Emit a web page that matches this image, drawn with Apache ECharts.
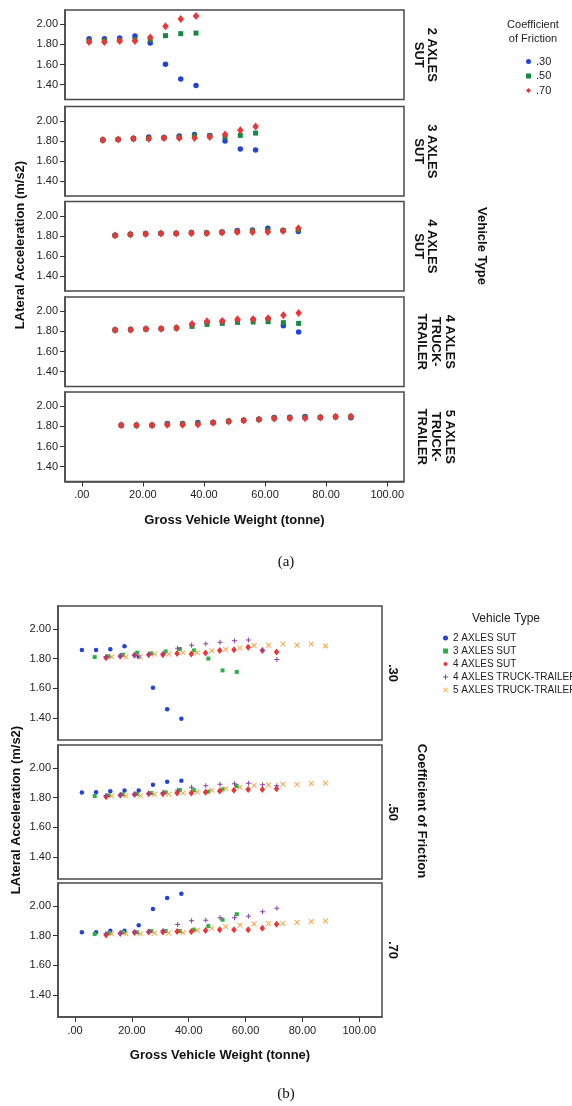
<!DOCTYPE html>
<html><head><meta charset="utf-8">
<script src="https://cdn.jsdelivr.net/npm/echarts@6/dist/echarts.min.js"></script>
<style>html,body{margin:0;padding:0;background:#fff}#c{width:572px;height:1106px}</style>
</head><body><div id="c"></div>
<script>
// ---------- data ----------
const vehicleTypes = ['2 AXLES SUT','3 AXLES SUT','4 AXLES SUT','4 AXLES TRUCK-TRAILER','5 AXLES TRUCK-TRAILER'];
const stripLabels = ['2 AXLES\nSUT','3 AXLES\nSUT','4 AXLES\nSUT','4 AXLES\nTRUCK-\nTRAILER','5 AXLES\nTRUCK-\nTRAILER'];
const frictions = ['.30','.50','.70'];
const xTicks = [0,20,40,60,80,100];
const yTicks = [1.40,1.60,1.80,2.00];

const gvw2 = [2.4,7.4,12.4,17.4,22.4,27.4,32.4,37.4];
const acc2_30 = [1.857,1.857,1.863,1.883,1.813,1.603,1.457,1.393];
const acc2_50 = [1.835,1.836,1.842,1.848,1.847,1.887,1.907,1.913];
const acc2_70 = [1.823,1.823,1.833,1.833,1.870,1.980,2.053,2.083];

const gvw3 = [6.9,11.9,16.9,21.9,26.9,31.9,36.9,41.9,46.9,51.9,56.9];
const acc3_30 = [1.810,1.815,1.826,1.840,1.835,1.848,1.864,1.855,1.800,1.720,1.710];
const acc3_50 = [1.810,1.815,1.822,1.825,1.830,1.835,1.850,1.850,1.840,1.855,1.878];
const acc3_70 = [1.810,1.815,1.822,1.822,1.830,1.830,1.830,1.840,1.864,1.907,1.944];

const gvw4 = [10.9,15.9,20.9,25.9,30.9,35.9,40.9,45.9,50.9,55.9,60.9,65.9,70.9];
const acc4_30 = [1.806,1.816,1.822,1.826,1.826,1.835,1.830,1.838,1.854,1.860,1.877,1.855,1.844];
const acc4_50 = [1.805,1.815,1.821,1.825,1.825,1.830,1.830,1.836,1.845,1.850,1.855,1.855,1.860];
const acc4_70 = [1.804,1.814,1.820,1.824,1.824,1.827,1.827,1.834,1.840,1.840,1.840,1.850,1.877];

const gvwT4 = [10.9,16.0,21.0,26.0,31.0,36.1,41.0,46.0,51.0,56.1,61.0,66.0,71.0];
const accT4_30 = [1.814,1.817,1.824,1.827,1.834,1.870,1.890,1.900,1.910,1.920,1.925,1.857,1.794];
const accT4_50 = [1.814,1.817,1.824,1.827,1.834,1.850,1.870,1.880,1.890,1.894,1.897,1.887,1.880];
const accT4_70 = [1.814,1.817,1.824,1.827,1.834,1.874,1.900,1.904,1.920,1.920,1.930,1.960,1.984];

const gvw5 = [12.9,17.9,23.0,28.0,33.0,38.0,43.0,48.1,53.0,58.0,63.0,68.1,73.1,78.1,83.1,88.1];
const acc5_30 = [1.812,1.812,1.812,1.830,1.830,1.840,1.840,1.853,1.862,1.872,1.888,1.890,1.898,1.890,1.897,1.885];
const acc5_50 = [1.812,1.812,1.812,1.822,1.823,1.830,1.838,1.850,1.860,1.870,1.882,1.885,1.890,1.889,1.895,1.898];
const acc5_70 = [1.812,1.812,1.812,1.816,1.816,1.820,1.836,1.850,1.860,1.870,1.878,1.881,1.881,1.888,1.895,1.898];

// ---------- build ----------
const FONT = 'Liberation Sans, Arial, sans-serif';
const gvwAll = [gvw2,gvw3,gvw4,gvwT4,gvw5];
const accAll = [
  [acc2_30,acc2_50,acc2_70],
  [acc3_30,acc3_50,acc3_70],
  [acc4_30,acc4_50,acc4_70],
  [accT4_30,accT4_50,accT4_70],
  [acc5_30,acc5_50,acc5_70]
];
const pairs = (xs, ys) => xs.map((x,i)=>[x, ys[i]]);

const PLUS = 'path://M4,0H6V4H10V6H6V10H4V6H0V4H4Z';
const XMARK = 'path://M1.2,0L5,3.8L8.8,0L10,1.2L6.2,5L10,8.8L8.8,10L5,6.2L1.2,10L0,8.8L3.8,5L0,1.2Z';

const colA = ['#2443d6','#168a42','#ee3535'];
const symA = ['circle','rect','diamond'];
const sizeA = [5.5,5,[6.5,8]];

const colB = ['#2443d6','#2cae47','#ee3535','#8e3fa3','#f5a342'];
const symB = ['circle','rect','diamond',PLUS,XMARK];
const sizeB = [4.5,4,[5.5,7],5,5.5];

const topsA = [10,106.5,201.5,297,392];
const hA = 89.5;
const topsB = [606,745,883];
const hB = 134;

const grids = [], xAxes = [], yAxes = [], series = [];
function addPanel(left, top, width, height, xmin, xmax, ymin, ymax, bottom) {
  const gi = grids.length;
  grids.push({left:left, top:top, width:width, height:height, show:true,
    borderColor:'#4a4a4a', borderWidth:1.5, backgroundColor:'#fff', containLabel:false});
  xAxes.push({type:'value', gridIndex:gi, min:xmin, max:xmax, show:bottom,
    splitLine:{show:false},
    axisLine:{show:true, onZero:false, lineStyle:{color:'#4a4a4a', width:1.5}},
    axisTick:{show:true, length:5, customValues:xTicks, lineStyle:{color:'#333'}},
    axisLabel:{customValues:xTicks, formatter:v=> v===0 ? '.00' : v.toFixed(2),
      fontSize:11, color:'#222', fontFamily:FONT, margin:8},
    name: bottom ? 'Gross Vehicle Weight (tonne)' : '', nameLocation:'middle', nameGap:32,
    nameTextStyle:{fontSize:13, fontWeight:'bold', color:'#111', fontFamily:FONT}
  });
  yAxes.push({type:'value', gridIndex:gi, min:ymin, max:ymax,
    splitLine:{show:false},
    axisLine:{show:true, onZero:false, lineStyle:{color:'#4a4a4a', width:1.5}},
    axisTick:{show:true, length:5, customValues:yTicks, lineStyle:{color:'#333'}},
    axisLabel:{customValues:yTicks, formatter:v=>v.toFixed(2),
      fontSize:11, color:'#222', fontFamily:FONT, margin:7}
  });
  return gi;
}

// (a) panels by vehicle type
for (let p=0; p<5; p++) {
  const gi = addPanel(65, topsA[p], 339, hA, -5.5, 105.5, 1.253, 2.142, p===4);
  for (let f=0; f<3; f++) {
    series.push({type:'scatter', name:frictions[f], xAxisIndex:gi, yAxisIndex:gi,
      data: pairs(gvwAll[p], accAll[p][f]), symbol:symA[f], symbolSize:sizeA[f],
      itemStyle:{color:colA[f], opacity:1}, emphasis:{disabled:true}, silent:true});
  }
}
// (b) panels by friction
for (let f=0; f<3; f++) {
  const gi = addPanel(58, topsB[f], 324, hB, -6, 108, 1.25, 2.155, f===2);
  for (let t=0; t<5; t++) {
    series.push({type:'scatter', name:vehicleTypes[t], xAxisIndex:gi, yAxisIndex:gi,
      data: pairs(gvwAll[t], accAll[t][f]), symbol:symB[t], symbolSize:sizeB[t],
      itemStyle:{color:colB[t], opacity:1}, emphasis:{disabled:true}, silent:true});
  }
}

const graphics = [];
function txt(x, y, text, font, rot, extra) {
  graphics.push(Object.assign({type:'text', x:x, y:y, rotation:rot||0,
    style:Object.assign({text:text, font:font, fill:'#111', align:'center', verticalAlign:'middle'}, extra||{})}));
}
const R = -Math.PI/2;
// (a) strips
for (let p=0; p<5; p++) {
  const lines = stripLabels[p].split('\n').length;
  const cx = lines === 2 ? 425.5 : 436;
  txt(cx, topsA[p] + hA/2, stripLabels[p], 'bold 13px ' + FONT, R, {lineHeight: lines===2 ? 13 : 14});
}
txt(482, 246, 'Vehicle Type', 'bold 13px ' + FONT, R);
txt(20, 245, 'LAteral Acceleration (m/s2)', 'bold 13px ' + FONT, Math.PI/2);
txt(533, 32, 'Coefficient\nof Friction', '11px ' + FONT, 0, {lineHeight:14, fill:'#222'});
txt(286, 562, '(a)', '15px Liberation Serif, Times New Roman, serif', 0);
// (b) strips
for (let f=0; f<3; f++) {
  txt(393, topsB[f] + hB/2, frictions[f], 'bold 13px ' + FONT, R);
}
txt(422, 811, 'Coefficient of Friction', 'bold 13px ' + FONT, R);
txt(16, 810, 'LAteral Acceleration (m/s2)', 'bold 13px ' + FONT, Math.PI/2);
txt(506, 619, 'Vehicle Type', '12px ' + FONT, 0, {fill:'#222'});
txt(286, 1094, '(b)', '15px Liberation Serif, Times New Roman, serif', 0);

const chart = echarts.init(document.getElementById('c'), null, {renderer:'canvas'});
chart.setOption({
  animation:false,
  backgroundColor:'#fff',
  grid: grids, xAxis: xAxes, yAxis: yAxes, series: series,
  legend: [
    {data: frictions, orient:'vertical', left:526, top:56, padding:0, itemWidth:5, itemHeight:5, itemGap:3.5,
     selectedMode:false, textStyle:{fontSize:11, color:'#222', fontFamily:FONT, padding:[0,0,0,0]}},
    {data: vehicleTypes, orient:'vertical', left:443, top:633, padding:0, itemWidth:5, itemHeight:5, itemGap:3,
     selectedMode:false, textStyle:{fontSize:10, color:'#222', fontFamily:FONT, padding:[0,0,0,0]}}
  ],
  graphic: graphics
});
</script></body></html>
